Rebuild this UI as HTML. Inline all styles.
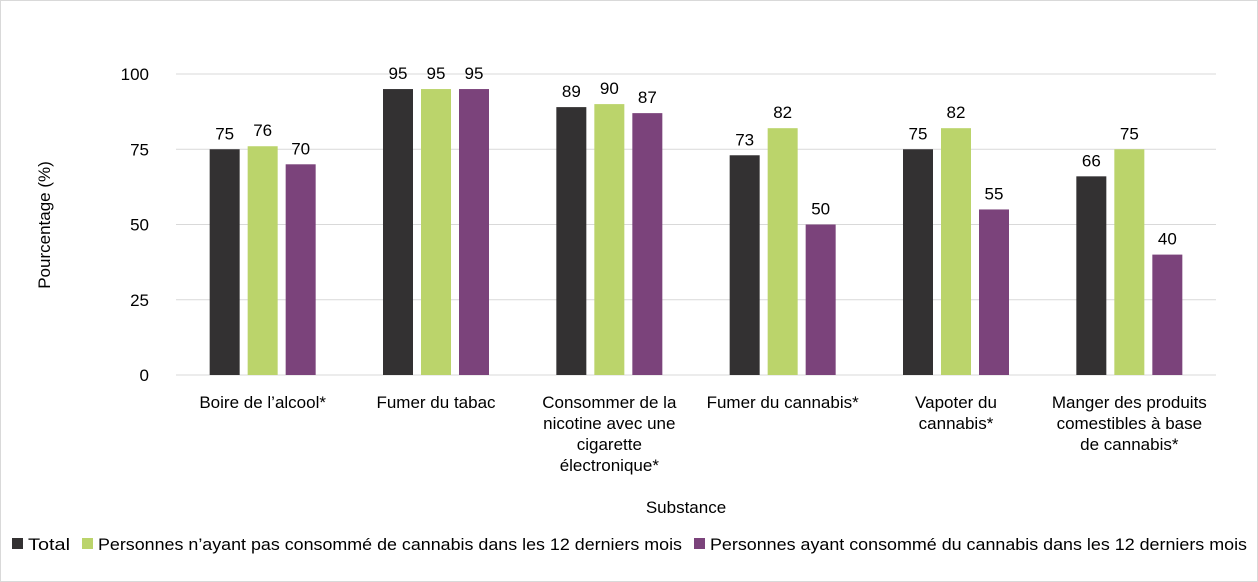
<!DOCTYPE html>
<html><head><meta charset="utf-8"><style>
html,body{margin:0;padding:0;background:#fff}
svg{display:block;font-family:"Liberation Sans",sans-serif}
</style></head><body>
<svg id="chart" width="1258" height="582" viewBox="0 0 1258 582">
<rect x="0.5" y="0.5" width="1257" height="581" fill="#fff" stroke="#d9d9d9"/>
<g id="grid"></g><g id="bars"></g><g id="labels"></g>
<text x="50" y="225" transform="rotate(-90 50 225)" text-anchor="middle" font-size="17" fill="#000">Pourcentage (%)</text>
<text x="686" y="513" text-anchor="middle" font-size="17" fill="#000">Substance</text>
<g font-size="17">
<rect x="12" y="538" width="11" height="11" fill="#333132"/>
<text x="28" y="550" textLength="42" lengthAdjust="spacingAndGlyphs">Total</text>
<rect x="82" y="538" width="11" height="11" fill="#bbd46b"/>
<text x="98" y="550" textLength="584" lengthAdjust="spacingAndGlyphs">Personnes n’ayant pas consommé de cannabis dans les 12 derniers mois</text>
<rect x="694" y="538" width="11" height="11" fill="#7b437b"/>
<text x="710" y="550" textLength="537" lengthAdjust="spacingAndGlyphs">Personnes ayant consommé du cannabis dans les 12 derniers mois</text>
</g>
</svg>
<script>
const categories=[["Boire de l’alcool*"],["Fumer du tabac"],["Consommer de la","nicotine avec une","cigarette","électronique*"],["Fumer du cannabis*"],["Vapoter du","cannabis*"],["Manger des produits","comestibles à base","de cannabis*"]];
const totalValues=[75,95,89,73,75,66];
const nonUserValues=[76,95,90,82,82,75];
const userValues=[70,95,87,50,55,40];
const yTicks=[0,25,50,75,100];
const NS="http://www.w3.org/2000/svg";
const x0=176,x1=1216,yBase=375,yTop=74;
const step=(x1-x0)/categories.length;
function y(v){return yBase-(v/100)*(yBase-yTop);}
function mk(t,a,p){const e=document.createElementNS(NS,t);for(const k in a)e.setAttribute(k,a[k]);p.appendChild(e);return e;}
const grid=document.getElementById('grid'),bars=document.getElementById('bars'),labels=document.getElementById('labels');
yTicks.forEach(t=>{
 const l=mk('line',{x1:x0,x2:x1,y1:y(t),y2:y(t),stroke:'#d9d9d9','stroke-width':1},grid);
 
 
 const tx=mk('text',{x:149,y:y(t)+6,'text-anchor':'end','font-size':17},grid);
 tx.textContent=t;
 
 
});
const series=[[totalValues,'#333132','total'],[nonUserValues,'#bbd46b','non-users'],[userValues,'#7b437b','users']];
categories.forEach((c,i)=>{
 const cx=x0+step*(i+0.5);
 series.forEach((s,j)=>{
  const v=s[0][i];const bx=cx-53+j*38;
  const r=mk('rect',{x:bx,y:y(v),width:30,height:yBase-y(v),fill:s[1]},bars);
  
  
  const t=mk('text',{x:bx+15,y:y(v)-10,'text-anchor':'middle','font-size':17},labels);
  t.textContent=v;
  
  
 });
 c.forEach((line,k)=>{
  const t=mk('text',{x:cx,y:408+k*21,'text-anchor':'middle','font-size':17},labels);
  t.textContent=line;
  
  
 });
});
</script>
</body></html>
